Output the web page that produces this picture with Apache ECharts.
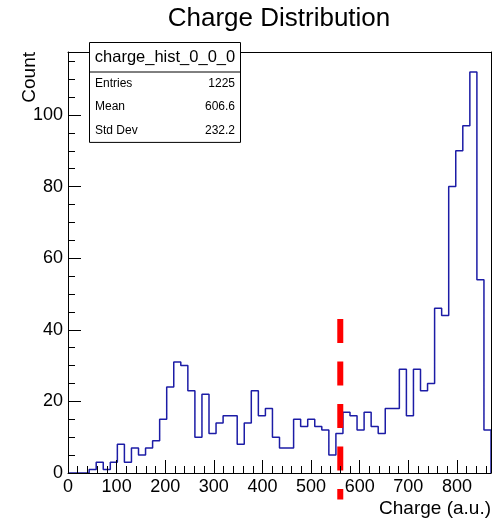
<!DOCTYPE html>
<html>
<head>
<meta charset="utf-8">
<script src="https://cdn.jsdelivr.net/npm/echarts@6/dist/echarts.min.js"></script>
<style>
  html, body { margin: 0; padding: 0; background: #ffffff; }
  #chart { width: 492px; height: 520px; }
</style>
</head>
<body>
<div id="chart"></div>
<script>
// Histogram binning: 60 bins of 14.5 a.u. starting at 0
const binStart = 0;
const binWidth = 14.5;
const binCounts = [
  0, 0, 0, 1, 3, 1, 3, 8, 3, 7,
  5, 7, 9, 15, 24, 31, 30, 23, 10, 22,
  11, 14, 16, 16, 8, 14, 23, 16, 18, 10,
  7, 7, 15, 13, 15, 13, 12, 5, 11, 17,
  16, 12, 17, 13, 11, 18, 18, 29, 16, 29,
  23, 25, 46, 44, 80, 90, 97, 112, 54, 12
];

// Axis ranges and tick steps
const xRange = [0, 870];
const yRange = [0, 117.6];
const xMajorStep = 100, xMinorStep = 20;
const yMajorStep = 20, yMinorStep = 5;

// Threshold cut marker (x position, y from top to bottom)
const cutX = 560;
const cutSpan = [43, -7.4];

// Statistics box contents
const statsTitle = 'charge_hist_0_0_0';
const statsNames = ['Entries', 'Mean', 'Std Dev'];
const statsValues = ['1225', '606.6', '232.2'];

const FONT = '"Liberation Sans", Arial, Helvetica, sans-serif';

// Outline of the histogram as a step line through the bin edges
const stepPoints = binCounts.map((c, i) => [binStart + i * binWidth, c]);
const xEnd = binStart + binCounts.length * binWidth;
stepPoints.push([xEnd, binCounts[binCounts.length - 1]], [xEnd, 0]);

const chart = echarts.init(document.getElementById('chart'), null, { renderer: 'canvas' });

function majorAxis(range, step, pos) {
  return {
    type: 'value', min: range[0], max: range[1], interval: step, position: pos, z: 5,
    axisLine: { show: true, onZero: false, lineStyle: { color: '#000', width: 1 } },
    axisTick: { show: true, inside: true, length: 13, lineStyle: { color: '#000', width: 1 } },
    axisLabel: { show: true, showMaxLabel: false, margin: 5, color: '#000', fontSize: 18, fontFamily: FONT },
    splitLine: { show: false }, minorTick: { show: false }
  };
}
function minorAxis(range, step, pos) {
  return {
    type: 'value', min: range[0], max: range[1], interval: step, position: pos, z: 5,
    axisLine: { show: false },
    axisTick: { show: true, inside: true, length: 7, lineStyle: { color: '#000', width: 1 } },
    axisLabel: { show: false }, splitLine: { show: false }
  };
}
function frameAxis(range, pos) {
  return {
    type: 'value', min: range[0], max: range[1], position: pos, z: 5,
    axisLine: { show: true, onZero: false, lineStyle: { color: '#000', width: 1 } },
    axisTick: { show: false }, axisLabel: { show: false }, splitLine: { show: false }
  };
}

const statsTop = 42, statsLeft = 89, statsW = 151, rowH = 23.3, headH = 29.5;
const statsGraphics = [
  { type: 'rect', z: 20, shape: { x: statsLeft + 0.5, y: statsTop + 0.5, width: statsW, height: headH + rowH * 3 + 0.5 },
    style: { fill: '#fff', stroke: '#000', lineWidth: 1 } },
  { type: 'line', z: 21, shape: { x1: statsLeft + 0.5, y1: statsTop + headH + 0.5, x2: statsLeft + statsW + 0.5, y2: statsTop + headH + 0.5 },
    style: { stroke: '#000', lineWidth: 1 } },
  { type: 'text', z: 21, x: statsLeft + statsW / 2 + 0.5, y: statsTop + headH / 2 + 0.5,
    style: { text: statsTitle, font: '16.5px ' + FONT, fill: '#000', align: 'center', verticalAlign: 'middle', textAlign: 'center', textVerticalAlign: 'middle' } }
];
statsNames.forEach((name, i) => {
  const cy = statsTop + headH + rowH * (i + 0.5) + 0.5;
  statsGraphics.push(
    { type: 'text', z: 21, x: statsLeft + 6, y: cy,
      style: { text: name, font: '12px ' + FONT, fill: '#000', align: 'left', verticalAlign: 'middle', textAlign: 'left', textVerticalAlign: 'middle' } },
    { type: 'text', z: 21, x: statsLeft + statsW - 5, y: cy,
      style: { text: statsValues[i], font: '12px ' + FONT, fill: '#000', align: 'right', verticalAlign: 'middle', textAlign: 'right', textVerticalAlign: 'middle' } }
  );
});

chart.setOption({
  animation: false,
  backgroundColor: '#ffffff',
  grid: { left: 68, right: 1, top: 52, bottom: 47, outerBoundsMode: 'none', containLabel: false },
  xAxis: [
    majorAxis(xRange, xMajorStep, 'bottom'),
    minorAxis(xRange, xMinorStep, 'bottom'),
    frameAxis(xRange, 'top')
  ],
  yAxis: [
    majorAxis(yRange, yMajorStep, 'left'),
    minorAxis(yRange, yMinorStep, 'left'),
    frameAxis(yRange, 'right')
  ],
  series: [
    {
      name: 'charge_hist_0_0_0',
      type: 'line',
      step: 'end',
      xAxisIndex: 0, yAxisIndex: 0,
      data: stepPoints,
      showSymbol: false, symbol: 'none',
      clip: false,
      z: 3,
      lineStyle: { color: '#1c1ca6', width: 1.5 }
    },
    {
      name: 'cut',
      type: 'custom',
      xAxisIndex: 0, yAxisIndex: 0,
      clip: false,
      z: 4,
      data: [[cutX, cutSpan[0], cutSpan[1]]],
      renderItem: function (params, api) {
        const p0 = api.coord([api.value(0), api.value(1)]);
        const p1 = api.coord([api.value(0), api.value(2)]);
        return {
          type: 'line',
          shape: { x1: p0[0], y1: p0[1], x2: p1[0], y2: p1[1] },
          style: { stroke: '#ff0000', lineWidth: 6, lineDash: [24, 18.5], lineCap: 'butt' }
        };
      }
    }
  ],
  graphic: [
    { type: 'text', z: 20, x: 279, y: 19,
      style: { text: 'Charge Distribution', font: '26px ' + FONT, fill: '#000', align: 'center', verticalAlign: 'middle', textAlign: 'center', textVerticalAlign: 'middle' } },
    { type: 'text', z: 20, x: 30, y: 52, rotation: Math.PI / 2,
      style: { text: 'Count', font: '19px ' + FONT, fill: '#000', align: 'right', verticalAlign: 'middle', textAlign: 'right', textVerticalAlign: 'middle' } },
    { type: 'text', z: 20, x: 491, y: 508.5,
      style: { text: 'Charge (a.u.)', font: '19px ' + FONT, fill: '#000', align: 'right', verticalAlign: 'middle', textAlign: 'right', textVerticalAlign: 'middle' } }
  ].concat(statsGraphics)
});
</script>
</body>
</html>
